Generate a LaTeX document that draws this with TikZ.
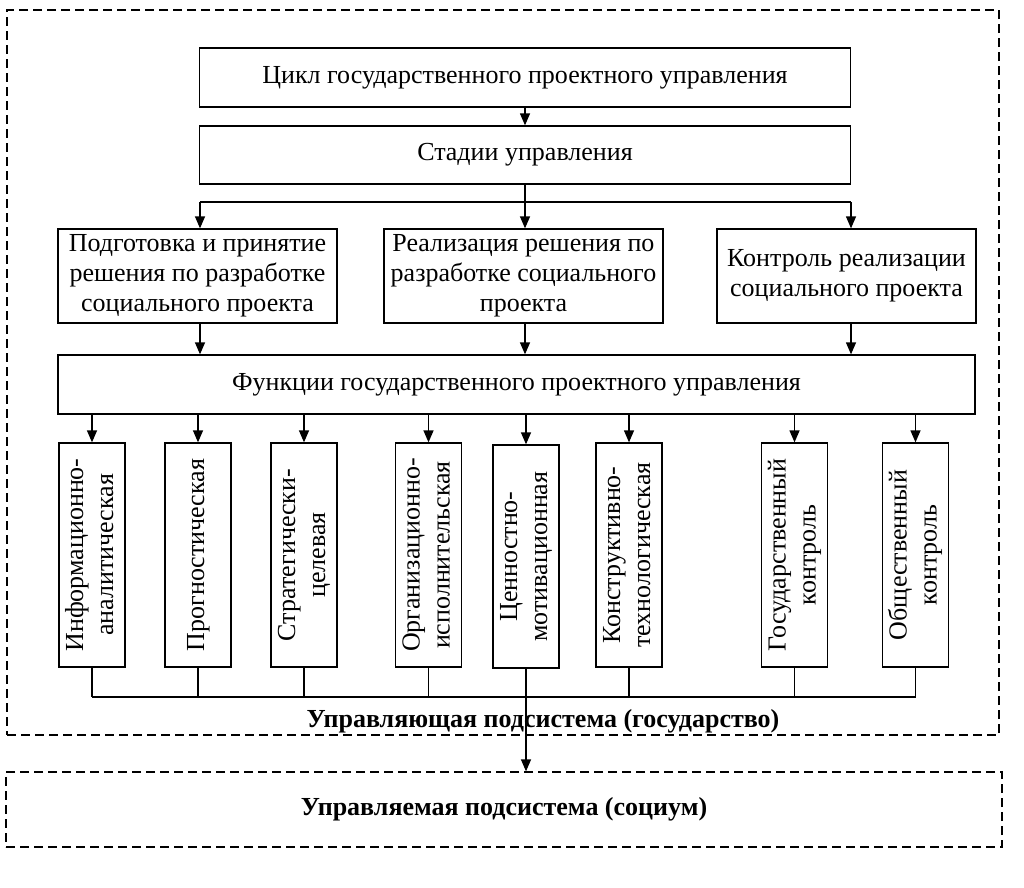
\documentclass[tikz,border=0pt]{standalone}
\usepackage{fontspec}
\setmainfont{Liberation Serif}
\usetikzlibrary{arrows.meta}
\tikzset{
  txt/.style={font=\fontsize{26}{30}\selectfont},
  box/.style={draw, line width=1.3pt, align=center, inner sep=0pt, txt},
  vbox/.style={draw, line width=1.3pt, minimum width=66pt, minimum height=224pt, inner sep=0pt, txt},
  arr/.style={line width=1.3pt, -{Triangle[length=12pt,width=10pt]}},
  ln/.style={line width=1.2pt},
  dbox/.style={draw, dash pattern=on 9pt off 5pt, line width=1.3pt, inner sep=0pt},
  boldtxt/.style={font=\fontsize{26}{30}\selectfont\bfseries},
}
\newcommand{\vtext}[1]{\rotatebox{90}{\begin{tabular}{@{}c@{}}#1\end{tabular}}}
\begin{document}
\begin{tikzpicture}[x=1pt,y=-1pt]
\useasboundingbox (0,0) rectangle (1024,887);
% outer dashed frames
\node[dbox, minimum width=992pt, minimum height=725pt] (upper) at (503,372.5) {};
\node[dbox, boldtxt, minimum width=996pt, minimum height=75pt] (lower) at (504,809.5) {Управляемая подсистема (социум)};
% top boxes
\node[box, minimum width=651pt, minimum height=59pt] (cycle) at (525,77.5) {Цикл государственного проектного управления};
\node[box, minimum width=651pt, minimum height=58pt] (stages) at (525,155) {Стадии управления};
% stage boxes
\node[box, minimum width=279pt, minimum height=94pt] (st1) at (197.5,276) {Подготовка и принятие\\решения по разработке\\социального проекта};
\node[box, minimum width=279pt, minimum height=94pt] (st2) at (523.5,276) {Реализация решения по\\разработке социального\\проекта};
\node[box, minimum width=259pt, minimum height=94pt] (st3) at (846.5,276) {Контроль реализации\\социального проекта};
% functions
\node[box, minimum width=917pt, minimum height=59pt] (func) at (516.5,384.5) {Функции государственного проектного управления};
% vertical boxes
\node[vbox] (v1) at (92,555) {\vtext{Информационно-\\аналитическая}};
\node[vbox] (v2) at (198,555) {\vtext{Прогностическая}};
\node[vbox] (v3) at (304,555) {\vtext{Стратегически-\\целевая}};
\node[vbox] (v4) at (428.5,555) {\vtext{Организационно-\\исполнительская}};
\node[vbox, minimum height=223pt] (v5) at (526,556.5) {\vtext{Ценностно-\\мотивационная}};
\node[vbox] (v6) at (629,555) {\vtext{Конструктивно-\\технологическая}};
\node[vbox] (v7) at (794.5,555) {\vtext{Государственный\\контроль}};
\node[vbox] (v8) at (915.5,555) {\vtext{Общественный\\контроль}};
% coordinates
\coordinate (brL) at (200,202);
\coordinate (brR) at (851,202);
\coordinate (bus) at (0,697);
% connectors
\draw[arr] (cycle.south) -- (stages.north);
\draw[ln] (stages.south) -- (stages.south |- brR);
\draw[ln] (brL) -- (brR);
\draw[arr] (brL) -- (brL |- st1.north);
\draw[arr] (stages.south |- brR) -- (stages.south |- st2.north);
\draw[arr] (brR) -- (brR |- st3.north);
\draw[arr] (st1.south -| brL) -- (brL |- func.north);
\draw[arr] (st2.south -| stages.south) -- (stages.south |- func.north);
\draw[arr] (st3.south -| brR) -- (brR |- func.north);
\foreach \v in {v1,v2,v3,v4,v5,v6,v7,v8}{
  \draw[arr] (func.south -| \v.north) -- (\v.north);
}
\foreach \v in {v1,v2,v3,v4,v6,v7,v8}{
  \draw[ln] (\v.south) -- (\v.south |- bus);
}
\draw[ln] (v1.south |- bus) -- (v8.south |- bus);
\draw[arr] (v5.south) -- (v5.south |- lower.north);
\node[boldtxt, inner sep=0pt, anchor=base] (ulabel) at (543,727) {Управляющая подсистема (государство)};
\end{tikzpicture}
\end{document}
